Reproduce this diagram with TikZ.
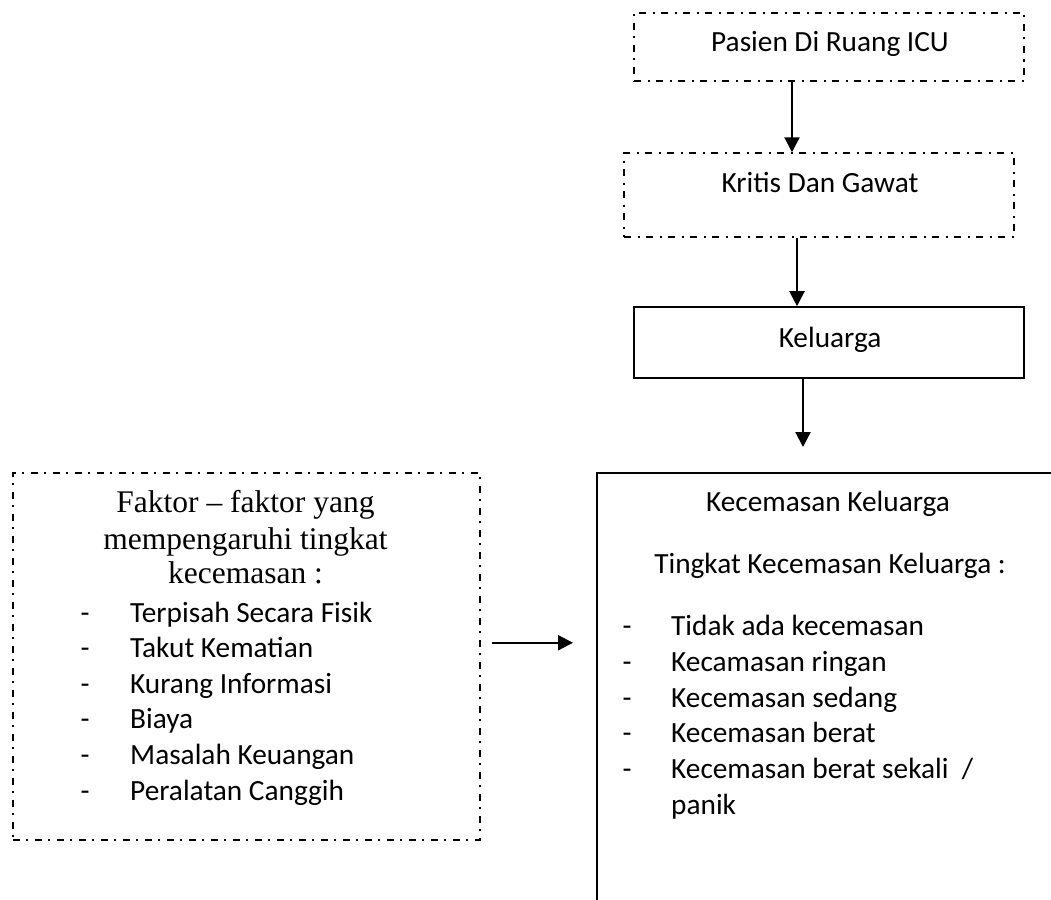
\documentclass[tikz,border=0pt]{standalone}
\usepackage{fontspec}
\setmainfont{Carlito}
\newfontfamily\serifTNR{Liberation Serif}
\usetikzlibrary{arrows.meta,calc}

\begin{document}
\begin{tikzpicture}[x=1pt,y=-1pt,
  dashdot/.style={draw, line width=1.5pt, dash pattern=on 7pt off 6.5pt on 2pt off 6.5pt},
  solidbox/.style={draw, line width=1.6pt},
  boxnode/.style={inner sep=0pt, minimum width=390pt},
  txt/.style={font=\fontsize{29.3}{36}\selectfont, inner sep=0pt, anchor=base},
  ltxt/.style={txt, anchor=base west},
  sertxt/.style={font=\serifTNR\fontsize{31.5}{36}\selectfont, inner sep=0pt, anchor=base},
  arr/.style={-{Triangle[length=15pt,width=15pt]}, line width=2.2pt},
]
\useasboundingbox (0,0) rectangle (1051,899);
\clip (0,0) rectangle (1051,899);

% top chain
\node[boxnode, dashdot, minimum height=68pt] (pas) at (829,47) {};
\node[txt] (pasT) at (830,52) {Pasien Di Ruang ICU};

\node[boxnode, dashdot, minimum height=84pt] (kri) at (819,195) {};
\node[txt] (kriT) at (820,192) {Kritis Dan Gawat};

\node[boxnode, solidbox, minimum height=71pt] (kel) at (829,342.5) {};
\node[txt] (kelT) at (830,347) {Keluarga};

% right big box
\node[solidbox, inner sep=0pt, minimum width=620pt, minimum height=520pt, anchor=north west] (kec) at (596,472) {};
\node[txt] (kecT) at (828,511) {Kecemasan Keluarga};
\node[txt] (tinT) at (830,573) {Tingkat Kecemasan Keluarga :};
\node[txt] (kd1) at (627,635) {-};
\node[ltxt] (k1) at (671,635) {Tidak ada kecemasan};
\node[txt] (kd2) at (627,671) {-};
\node[ltxt] (k2) at (671,671) {Kecamasan ringan};
\node[txt] (kd3) at (627,707) {-};
\node[ltxt] (k3) at (671,707) {Kecemasan sedang};
\node[txt] (kd4) at (627,742) {-};
\node[ltxt] (k4) at (671,742) {Kecemasan berat};
\node[txt] (kd5) at (627,778) {-};
\node[ltxt] (k5) at (671,778) {Kecemasan berat sekali~~/};
\node[ltxt] (k6) at (671,814) {panik};

% left box
\node[dashdot, inner sep=0pt, minimum width=467pt, minimum height=367pt, anchor=north west] (fak) at (12,472) {};
\node[sertxt] (f1) at (245.5,512) {Faktor – faktor yang};
\node[sertxt] (f2) at (245.5,549) {mempengaruhi tingkat};
\node[sertxt] (f3) at (245.5,583) {kecemasan :};
\node[txt] (fd1) at (85,622) {-};
\node[ltxt] (l1) at (130,622) {Terpisah Secara Fisik};
\node[txt] (fd2) at (85,657) {-};
\node[ltxt] (l2) at (130,657) {Takut Kematian};
\node[txt] (fd3) at (85,693) {-};
\node[ltxt] (l3) at (130,693) {Kurang Informasi};
\node[txt] (fd4) at (85,728) {-};
\node[ltxt] (l4) at (130,728) {Biaya};
\node[txt] (fd5) at (85,764) {-};
\node[ltxt] (l5) at (130,764) {Masalah Keuangan};
\node[txt] (fd6) at (85,800) {-};
\node[ltxt] (l6) at (130,800) {Peralatan Canggih};

% connectors
\draw[arr] ([xshift=-37pt]pas.south) -- ([xshift=-37pt]pas.south |- kri.north);
\draw[arr] ([xshift=-22pt]kri.south) -- ([xshift=-22pt]kri.south |- kel.north);
\draw[arr, shorten >=25pt] ([xshift=-26pt]kel.south) -- ([xshift=-26pt]kel.south |- kec.north);
\draw[arr, shorten <=11pt, shorten >=23pt] ([yshift=13.5pt]fak.east) -- ([yshift=13.5pt]fak.east -| kec.west);
\end{tikzpicture}
\end{document}
